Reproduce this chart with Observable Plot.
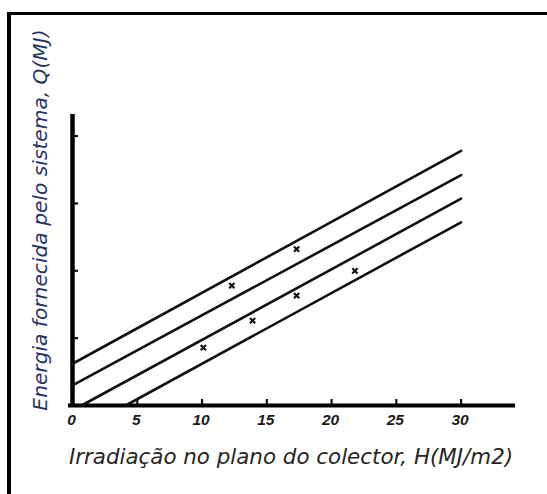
<!DOCTYPE html>
<html>
<head>
<meta charset="utf-8">
<script src="https://cdn.jsdelivr.net/npm/d3@7"></script>
<script src="https://cdn.jsdelivr.net/npm/@observablehq/plot@0.6"></script>
<style>
  html, body { margin: 0; padding: 0; background: #fff; }
  #wrap { position: relative; width: 547px; height: 494px; overflow: hidden; background: #fff; }
  #wrap svg { position: absolute; left: 0; top: 0; }
  #frame {
    position: absolute; left: 7px; top: 12px; width: 560px; height: 500px;
    border-top: 3px solid #000; border-left: 4px solid #000; box-sizing: border-box;
    pointer-events: none;
  }
</style>
</head>
<body>
<div id="wrap"><div id="frame"></div></div>
<script>
// Axis titles
const xTitle = "Irradiação no plano do colector, H(MJ/m2)";
const yTitle = "Energia fornecida pelo sistema, Q(MJ)";

// Tick positions (x labelled, y unlabelled)
const xTickLabels = [0, 5, 10, 15, 20, 25, 30];
const yTickValues = [1, 2, 3, 4];

// Axis extents
const xMax = 34.2;
const yMax = 4.32;

// The four straight performance lines: end points (H, Q)
const lineIds = ["a", "b", "c", "d"];
const lineStartH = [0, 0, 0.7, 4.1];
const lineStartQ = [0.62, 0.30, 0, 0];
const lineEndH = [30, 30, 30, 30];
const lineEndQ = [3.78, 3.42, 3.07, 2.72];

// Measured points
const pointH = [10.1, 12.3, 13.9, 17.3, 17.3, 21.8];
const pointQ = [0.86, 1.78, 1.26, 2.32, 1.63, 2.0];

const lineRows = lineIds.flatMap((id, i) => [
  {id, H: lineStartH[i], Q: lineStartQ[i]},
  {id, H: lineEndH[i], Q: lineEndQ[i]}
]);
const pointRows = pointH.map((h, i) => ({H: h, Q: pointQ[i]}));

const chart = Plot.plot({
  width: 547,
  height: 494,
  marginLeft: 72,
  marginRight: 32,
  marginTop: 114,
  marginBottom: 89,
  style: {background: "transparent", overflow: "visible"},
  x: {domain: [0, xMax], label: null},
  y: {domain: [0, yMax], label: null},
  marks: [
    // inward tick marks
    Plot.axisX(xTickLabels.slice(1), {label: null, tickSize: -6, tickFormat: () => "", strokeWidth: 2.2, stroke: "#111"}),
    Plot.axisY(yTickValues, {label: null, anchor: "left", tickSize: -6, tickFormat: () => "", strokeWidth: 2.2, stroke: "#111"}),
    // tick labels
    Plot.axisX(xTickLabels, {
      label: null, tickSize: 0, tickPadding: 8, fontSize: 15.5, fontWeight: "bold", fontStyle: "italic",
      fontFamily: "Liberation Sans, Arial, sans-serif", fill: "#1a1a1a", dx: -1
    }),
    // axis lines
    Plot.ruleY([0], {stroke: "#000", strokeWidth: 4, insetLeft: -4}),
    Plot.ruleX([0], {stroke: "#000", strokeWidth: 4.5, insetBottom: -2}),
    // performance lines
    Plot.line(lineRows, {x: "H", y: "Q", z: "id", stroke: "#111", strokeWidth: 2.6}),
    // measured points
    Plot.dot(pointRows, {x: "H", y: "Q", symbol: "times", r: 2.5, stroke: "#111", strokeWidth: 2.1}),
    // axis titles
    Plot.text([xTitle], {
      frameAnchor: "bottom", textAnchor: "middle", dx: -3, dy: 58,
      fontSize: 21.4, fontStyle: "italic", fontFamily: "DejaVu Sans, Verdana, sans-serif", fill: "#262626"
    }),
    Plot.text([yTitle], {
      frameAnchor: "left", textAnchor: "middle", rotate: -90, dx: -32, dy: -40,
      fontSize: 20.2, fontStyle: "italic", fontFamily: "DejaVu Sans, Verdana, sans-serif", fill: "#1f3468"
    })
  ]
});

document.getElementById("wrap").insertBefore(chart, document.getElementById("frame"));
</script>
</body>
</html>
